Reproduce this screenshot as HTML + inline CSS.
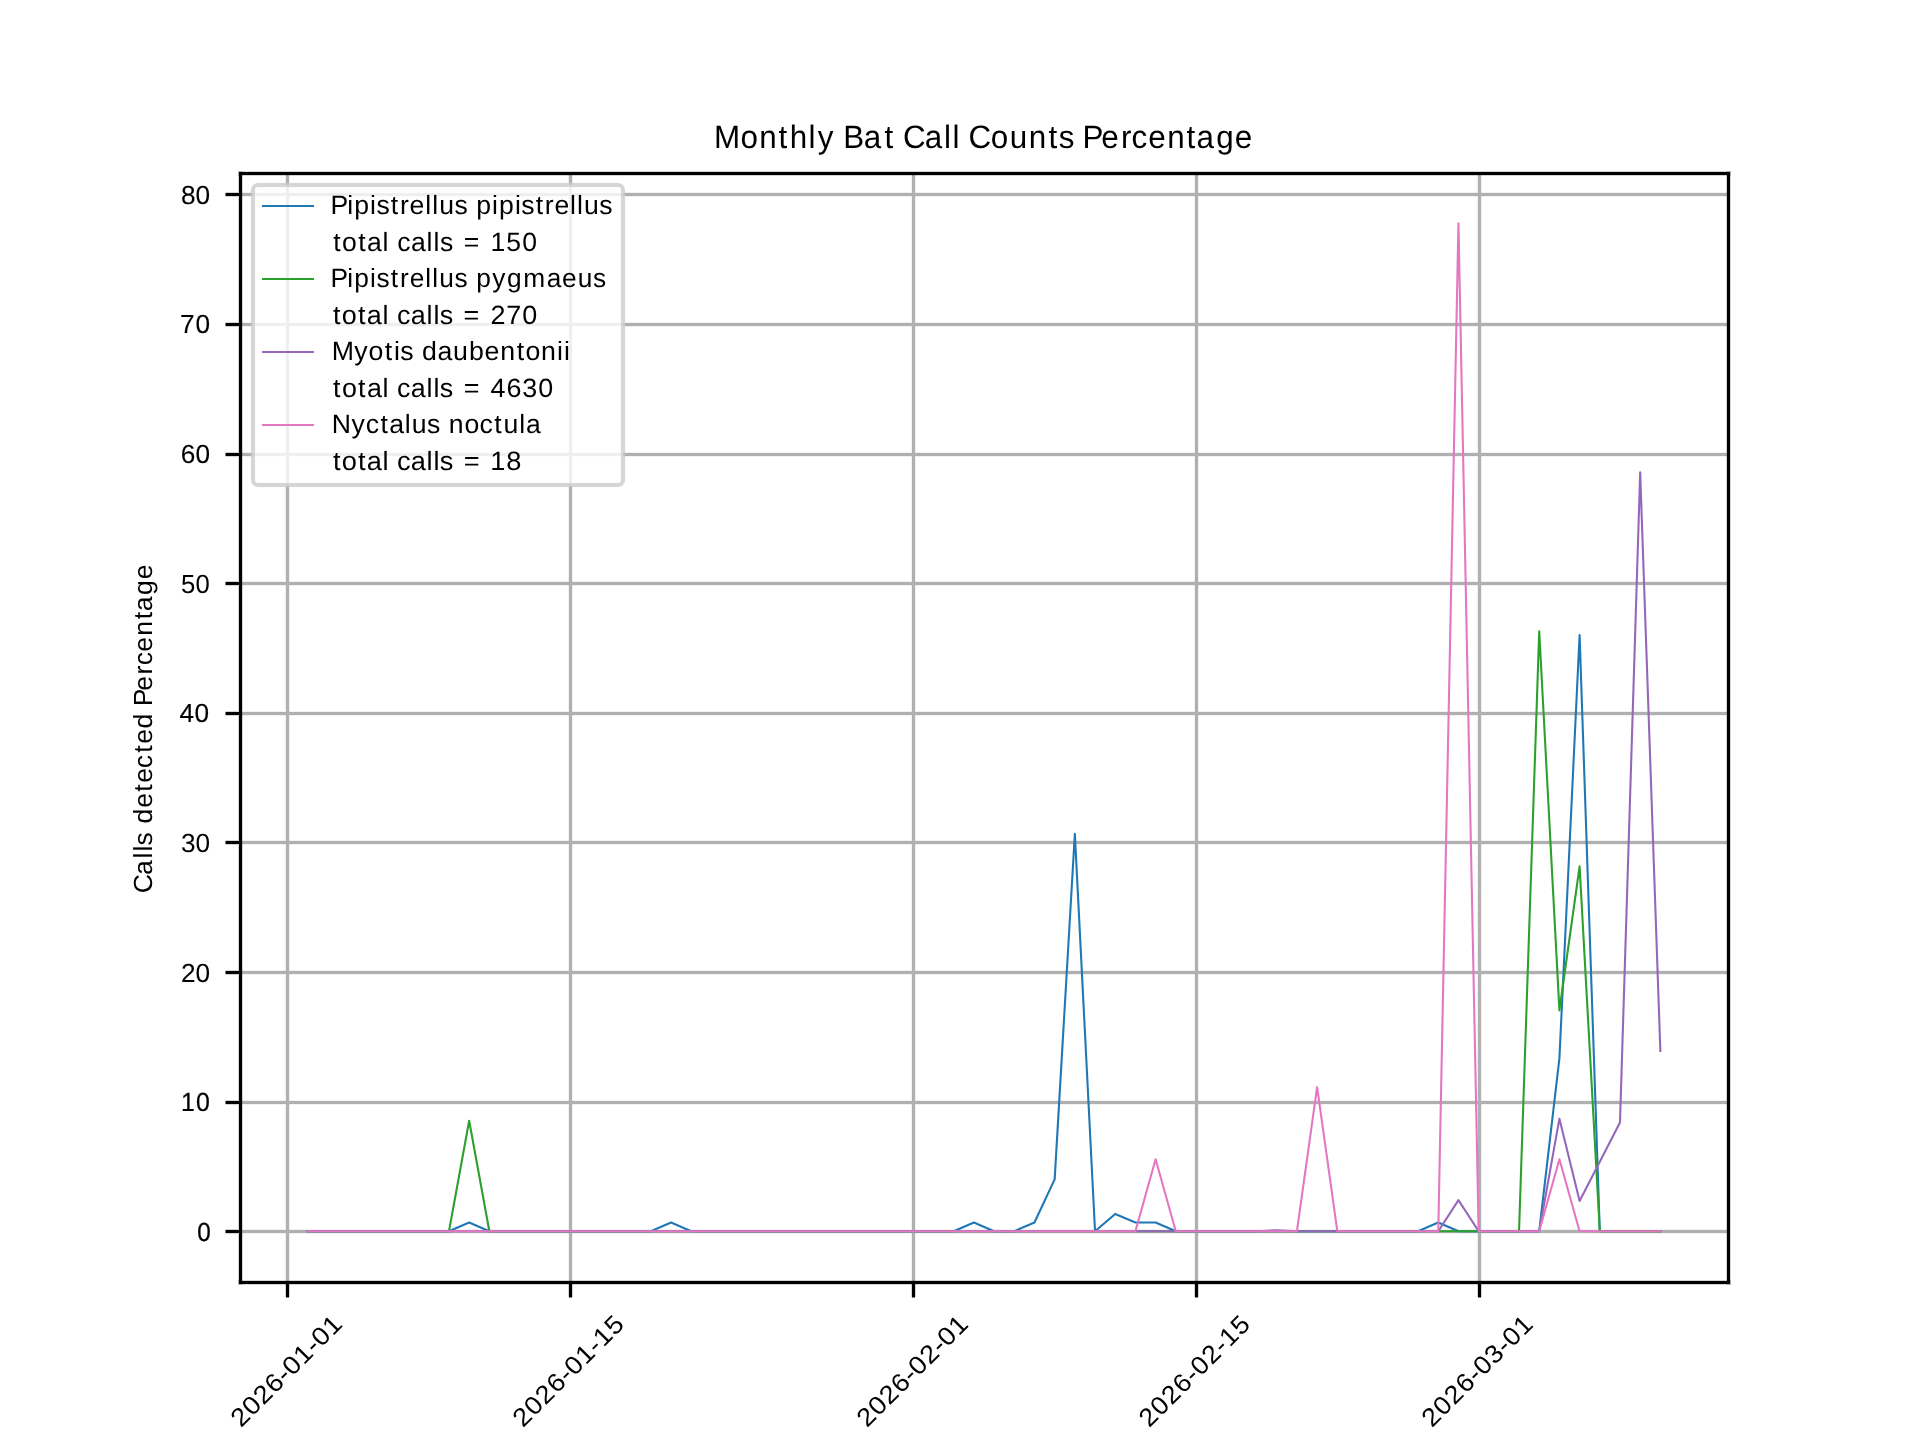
<!DOCTYPE html>
<html><head><meta charset="utf-8"><title>Monthly Bat Call Counts Percentage</title>
<style>
html,body{margin:0;padding:0;background:#fff;width:1920px;height:1440px;overflow:hidden}
svg{display:block;will-change:transform}
text{font-family:"Liberation Sans",sans-serif;fill:#000;text-rendering:geometricPrecision}
.c{shape-rendering:crispEdges}
</style></head><body>
<svg width="1920" height="1440" viewBox="0 0 1920 1440">
<rect x="0" y="0" width="1920" height="1440" fill="#ffffff"/>
<g class="c">
<rect x="286" y="172" width="3" height="1112" fill="#b0b0b0"/><rect x="285" y="172" width="1" height="1112" fill="#b0b0b0" fill-opacity="0.1667"/><rect x="289" y="172" width="1" height="1112" fill="#b0b0b0" fill-opacity="0.1667"/>
<rect x="569" y="172" width="3" height="1112" fill="#b0b0b0"/><rect x="568" y="172" width="1" height="1112" fill="#b0b0b0" fill-opacity="0.1667"/><rect x="572" y="172" width="1" height="1112" fill="#b0b0b0" fill-opacity="0.1667"/>
<rect x="912" y="172" width="3" height="1112" fill="#b0b0b0"/><rect x="911" y="172" width="1" height="1112" fill="#b0b0b0" fill-opacity="0.1667"/><rect x="915" y="172" width="1" height="1112" fill="#b0b0b0" fill-opacity="0.1667"/>
<rect x="1195" y="172" width="3" height="1112" fill="#b0b0b0"/><rect x="1194" y="172" width="1" height="1112" fill="#b0b0b0" fill-opacity="0.1667"/><rect x="1198" y="172" width="1" height="1112" fill="#b0b0b0" fill-opacity="0.1667"/>
<rect x="1478" y="172" width="3" height="1112" fill="#b0b0b0"/><rect x="1477" y="172" width="1" height="1112" fill="#b0b0b0" fill-opacity="0.1667"/><rect x="1481" y="172" width="1" height="1112" fill="#b0b0b0" fill-opacity="0.1667"/>
<rect x="239" y="1230" width="1491" height="3" fill="#b0b0b0"/><rect x="239" y="1229" width="1491" height="1" fill="#b0b0b0" fill-opacity="0.1667"/><rect x="239" y="1233" width="1491" height="1" fill="#b0b0b0" fill-opacity="0.1667"/>
<rect x="239" y="1101" width="1491" height="3" fill="#b0b0b0"/><rect x="239" y="1100" width="1491" height="1" fill="#b0b0b0" fill-opacity="0.1667"/><rect x="239" y="1104" width="1491" height="1" fill="#b0b0b0" fill-opacity="0.1667"/>
<rect x="239" y="971" width="1491" height="3" fill="#b0b0b0"/><rect x="239" y="970" width="1491" height="1" fill="#b0b0b0" fill-opacity="0.1667"/><rect x="239" y="974" width="1491" height="1" fill="#b0b0b0" fill-opacity="0.1667"/>
<rect x="239" y="841" width="1491" height="3" fill="#b0b0b0"/><rect x="239" y="840" width="1491" height="1" fill="#b0b0b0" fill-opacity="0.1667"/><rect x="239" y="844" width="1491" height="1" fill="#b0b0b0" fill-opacity="0.1667"/>
<rect x="239" y="712" width="1491" height="3" fill="#b0b0b0"/><rect x="239" y="711" width="1491" height="1" fill="#b0b0b0" fill-opacity="0.1667"/><rect x="239" y="715" width="1491" height="1" fill="#b0b0b0" fill-opacity="0.1667"/>
<rect x="239" y="582" width="1491" height="3" fill="#b0b0b0"/><rect x="239" y="581" width="1491" height="1" fill="#b0b0b0" fill-opacity="0.1667"/><rect x="239" y="585" width="1491" height="1" fill="#b0b0b0" fill-opacity="0.1667"/>
<rect x="239" y="453" width="1491" height="3" fill="#b0b0b0"/><rect x="239" y="452" width="1491" height="1" fill="#b0b0b0" fill-opacity="0.1667"/><rect x="239" y="456" width="1491" height="1" fill="#b0b0b0" fill-opacity="0.1667"/>
<rect x="239" y="323" width="1491" height="3" fill="#b0b0b0"/><rect x="239" y="322" width="1491" height="1" fill="#b0b0b0" fill-opacity="0.1667"/><rect x="239" y="326" width="1491" height="1" fill="#b0b0b0" fill-opacity="0.1667"/>
<rect x="239" y="193" width="1491" height="3" fill="#b0b0b0"/><rect x="239" y="192" width="1491" height="1" fill="#b0b0b0" fill-opacity="0.1667"/><rect x="239" y="196" width="1491" height="1" fill="#b0b0b0" fill-opacity="0.1667"/>
</g>
<g fill="none" stroke-width="2.0833" stroke-linejoin="round" stroke-linecap="square">
<polyline stroke="#1f77b4" points="307.64,1231.2 327.83,1231.2 348.02,1231.2 368.21,1231.2 388.4,1231.2 408.59,1231.2 428.78,1231.2 448.97,1231.2 469.16,1222.56 489.35,1231.2 509.54,1231.2 529.73,1231.2 549.92,1231.2 570.11,1231.2 590.3,1231.2 610.49,1231.2 630.68,1231.2 650.87,1231.2 671.06,1222.56 691.25,1231.2 711.44,1231.2 731.63,1231.2 751.82,1231.2 772.01,1231.2 792.2,1231.2 812.39,1231.2 832.58,1231.2 852.77,1231.2 872.96,1231.2 893.15,1231.2 913.34,1231.2 933.53,1231.2 953.72,1231.2 973.91,1222.56 994.09,1231.2 1014.28,1231.2 1034.47,1222.56 1054.66,1179.36 1074.85,833.76 1095.04,1231.2 1115.23,1213.92 1135.42,1222.56 1155.61,1222.56 1175.8,1231.2 1195.99,1231.2 1216.18,1231.2 1236.37,1231.2 1256.56,1231.2 1276.75,1231.2 1296.94,1231.2 1317.13,1231.2 1337.32,1231.2 1357.51,1231.2 1377.7,1231.2 1397.89,1231.2 1418.08,1231.2 1438.27,1222.56 1458.46,1231.2 1478.65,1231.2 1498.84,1231.2 1519.03,1231.2 1539.22,1231.2 1559.41,1058.4 1579.6,635.04 1599.79,1231.2 1619.98,1231.2 1640.17,1231.2 1660.36,1231.2"/>
<polyline stroke="#2ca02c" points="307.64,1231.2 327.83,1231.2 348.02,1231.2 368.21,1231.2 388.4,1231.2 408.59,1231.2 428.78,1231.2 448.97,1231.2 469.16,1120.8 489.35,1231.2 509.54,1231.2 529.73,1231.2 549.92,1231.2 570.11,1231.2 590.3,1231.2 610.49,1231.2 630.68,1231.2 650.87,1231.2 671.06,1231.2 691.25,1231.2 711.44,1231.2 731.63,1231.2 751.82,1231.2 772.01,1231.2 792.2,1231.2 812.39,1231.2 832.58,1231.2 852.77,1231.2 872.96,1231.2 893.15,1231.2 913.34,1231.2 933.53,1231.2 953.72,1231.2 973.91,1231.2 994.09,1231.2 1014.28,1231.2 1034.47,1231.2 1054.66,1231.2 1074.85,1231.2 1095.04,1231.2 1115.23,1231.2 1135.42,1231.2 1155.61,1231.2 1175.8,1231.2 1195.99,1231.2 1216.18,1231.2 1236.37,1231.2 1256.56,1231.2 1276.75,1231.2 1296.94,1231.2 1317.13,1231.2 1337.32,1231.2 1357.51,1231.2 1377.7,1231.2 1397.89,1231.2 1418.08,1231.2 1438.27,1231.2 1458.46,1231.2 1478.65,1231.2 1498.84,1231.2 1519.03,1231.2 1539.22,631.2 1559.41,1010.4 1579.6,866.4 1599.79,1231.2 1619.98,1231.2 1640.17,1231.2 1660.36,1231.2"/>
<polyline stroke="#9467bd" points="307.64,1231.2 327.83,1231.2 348.02,1231.2 368.21,1231.2 388.4,1231.2 408.59,1231.2 428.78,1231.2 448.97,1231.2 469.16,1231.2 489.35,1231.2 509.54,1231.2 529.73,1231.2 549.92,1231.2 570.11,1231.2 590.3,1231.2 610.49,1231.2 630.68,1231.2 650.87,1231.2 671.06,1231.2 691.25,1231.2 711.44,1231.2 731.63,1231.2 751.82,1231.2 772.01,1231.2 792.2,1231.2 812.39,1231.2 832.58,1231.2 852.77,1231.2 872.96,1231.2 893.15,1231.2 913.34,1231.2 933.53,1231.2 953.72,1231.2 973.91,1231.2 994.09,1231.2 1014.28,1231.2 1034.47,1231.2 1054.66,1231.2 1074.85,1231.2 1095.04,1231.2 1115.23,1231.2 1135.42,1231.2 1155.61,1231.2 1175.8,1231.2 1195.99,1231.2 1216.18,1231.2 1236.37,1231.2 1256.56,1231.2 1276.75,1230.36 1296.94,1231.2 1317.13,1231.2 1337.32,1231.2 1357.51,1231.2 1377.7,1231.2 1397.89,1231.2 1418.08,1231.2 1438.27,1231.2 1458.46,1200.13 1478.65,1231.2 1498.84,1231.2 1519.03,1231.2 1539.22,1231.2 1559.41,1118.67 1579.6,1200.97 1599.79,1161.78 1619.98,1122.59 1640.17,472.35 1660.36,1050.94"/>
<polyline stroke="#e377c2" points="307.64,1231.2 327.83,1231.2 348.02,1231.2 368.21,1231.2 388.4,1231.2 408.59,1231.2 428.78,1231.2 448.97,1231.2 469.16,1231.2 489.35,1231.2 509.54,1231.2 529.73,1231.2 549.92,1231.2 570.11,1231.2 590.3,1231.2 610.49,1231.2 630.68,1231.2 650.87,1231.2 671.06,1231.2 691.25,1231.2 711.44,1231.2 731.63,1231.2 751.82,1231.2 772.01,1231.2 792.2,1231.2 812.39,1231.2 832.58,1231.2 852.77,1231.2 872.96,1231.2 893.15,1231.2 913.34,1231.2 933.53,1231.2 953.72,1231.2 973.91,1231.2 994.09,1231.2 1014.28,1231.2 1034.47,1231.2 1054.66,1231.2 1074.85,1231.2 1095.04,1231.2 1115.23,1231.2 1135.42,1231.2 1155.61,1159.2 1175.8,1231.2 1195.99,1231.2 1216.18,1231.2 1236.37,1231.2 1256.56,1231.2 1276.75,1231.2 1296.94,1231.2 1317.13,1087.2 1337.32,1231.2 1357.51,1231.2 1377.7,1231.2 1397.89,1231.2 1418.08,1231.2 1438.27,1231.2 1458.46,223.2 1478.65,1231.2 1498.84,1231.2 1519.03,1231.2 1539.22,1231.2 1559.41,1159.2 1579.6,1231.2 1599.79,1231.2 1619.98,1231.2 1640.17,1231.2 1660.36,1231.2"/>
</g>
<g class="c">
<rect x="238" y="171" width="5" height="1114" fill="#000" fill-opacity="0.1667"/>
<rect x="1726" y="171" width="5" height="1114" fill="#000" fill-opacity="0.1667"/>
<rect x="238" y="171" width="1493" height="5" fill="#000" fill-opacity="0.1667"/>
<rect x="238" y="1280" width="1493" height="5" fill="#000" fill-opacity="0.1667"/>
<rect x="239" y="172" width="3" height="1112" fill="#000"/>
<rect x="1727" y="172" width="3" height="1112" fill="#000"/>
<rect x="239" y="172" width="1491" height="3" fill="#000"/>
<rect x="239" y="1281" width="1491" height="3" fill="#000"/>
<rect x="286" y="1284" width="3" height="13" fill="#000"/><rect x="286" y="1297" width="3" height="1" fill="#000" fill-opacity="0.5"/>
<rect x="285" y="1284" width="1" height="13" fill="#000" fill-opacity="0.1667"/><rect x="289" y="1284" width="1" height="13" fill="#000" fill-opacity="0.1667"/>
<rect x="569" y="1284" width="3" height="13" fill="#000"/><rect x="569" y="1297" width="3" height="1" fill="#000" fill-opacity="0.5"/>
<rect x="568" y="1284" width="1" height="13" fill="#000" fill-opacity="0.1667"/><rect x="572" y="1284" width="1" height="13" fill="#000" fill-opacity="0.1667"/>
<rect x="912" y="1284" width="3" height="13" fill="#000"/><rect x="912" y="1297" width="3" height="1" fill="#000" fill-opacity="0.5"/>
<rect x="911" y="1284" width="1" height="13" fill="#000" fill-opacity="0.1667"/><rect x="915" y="1284" width="1" height="13" fill="#000" fill-opacity="0.1667"/>
<rect x="1195" y="1284" width="3" height="13" fill="#000"/><rect x="1195" y="1297" width="3" height="1" fill="#000" fill-opacity="0.5"/>
<rect x="1194" y="1284" width="1" height="13" fill="#000" fill-opacity="0.1667"/><rect x="1198" y="1284" width="1" height="13" fill="#000" fill-opacity="0.1667"/>
<rect x="1478" y="1284" width="3" height="13" fill="#000"/><rect x="1478" y="1297" width="3" height="1" fill="#000" fill-opacity="0.5"/>
<rect x="1477" y="1284" width="1" height="13" fill="#000" fill-opacity="0.1667"/><rect x="1481" y="1284" width="1" height="13" fill="#000" fill-opacity="0.1667"/>
<rect x="226" y="1230" width="13" height="3" fill="#000"/><rect x="225" y="1230" width="1" height="3" fill="#000" fill-opacity="0.5"/>
<rect x="226" y="1229" width="12" height="1" fill="#000" fill-opacity="0.1667"/><rect x="226" y="1233" width="12" height="1" fill="#000" fill-opacity="0.1667"/>
<rect x="225" y="1229" width="1" height="1" fill="#000" fill-opacity="0.085"/><rect x="225" y="1233" width="1" height="1" fill="#000" fill-opacity="0.085"/>
<rect x="226" y="1101" width="13" height="3" fill="#000"/><rect x="225" y="1101" width="1" height="3" fill="#000" fill-opacity="0.5"/>
<rect x="226" y="1100" width="12" height="1" fill="#000" fill-opacity="0.1667"/><rect x="226" y="1104" width="12" height="1" fill="#000" fill-opacity="0.1667"/>
<rect x="225" y="1100" width="1" height="1" fill="#000" fill-opacity="0.085"/><rect x="225" y="1104" width="1" height="1" fill="#000" fill-opacity="0.085"/>
<rect x="226" y="971" width="13" height="3" fill="#000"/><rect x="225" y="971" width="1" height="3" fill="#000" fill-opacity="0.5"/>
<rect x="226" y="970" width="12" height="1" fill="#000" fill-opacity="0.1667"/><rect x="226" y="974" width="12" height="1" fill="#000" fill-opacity="0.1667"/>
<rect x="225" y="970" width="1" height="1" fill="#000" fill-opacity="0.085"/><rect x="225" y="974" width="1" height="1" fill="#000" fill-opacity="0.085"/>
<rect x="226" y="841" width="13" height="3" fill="#000"/><rect x="225" y="841" width="1" height="3" fill="#000" fill-opacity="0.5"/>
<rect x="226" y="840" width="12" height="1" fill="#000" fill-opacity="0.1667"/><rect x="226" y="844" width="12" height="1" fill="#000" fill-opacity="0.1667"/>
<rect x="225" y="840" width="1" height="1" fill="#000" fill-opacity="0.085"/><rect x="225" y="844" width="1" height="1" fill="#000" fill-opacity="0.085"/>
<rect x="226" y="712" width="13" height="3" fill="#000"/><rect x="225" y="712" width="1" height="3" fill="#000" fill-opacity="0.5"/>
<rect x="226" y="711" width="12" height="1" fill="#000" fill-opacity="0.1667"/><rect x="226" y="715" width="12" height="1" fill="#000" fill-opacity="0.1667"/>
<rect x="225" y="711" width="1" height="1" fill="#000" fill-opacity="0.085"/><rect x="225" y="715" width="1" height="1" fill="#000" fill-opacity="0.085"/>
<rect x="226" y="582" width="13" height="3" fill="#000"/><rect x="225" y="582" width="1" height="3" fill="#000" fill-opacity="0.5"/>
<rect x="226" y="581" width="12" height="1" fill="#000" fill-opacity="0.1667"/><rect x="226" y="585" width="12" height="1" fill="#000" fill-opacity="0.1667"/>
<rect x="225" y="581" width="1" height="1" fill="#000" fill-opacity="0.085"/><rect x="225" y="585" width="1" height="1" fill="#000" fill-opacity="0.085"/>
<rect x="226" y="453" width="13" height="3" fill="#000"/><rect x="225" y="453" width="1" height="3" fill="#000" fill-opacity="0.5"/>
<rect x="226" y="452" width="12" height="1" fill="#000" fill-opacity="0.1667"/><rect x="226" y="456" width="12" height="1" fill="#000" fill-opacity="0.1667"/>
<rect x="225" y="452" width="1" height="1" fill="#000" fill-opacity="0.085"/><rect x="225" y="456" width="1" height="1" fill="#000" fill-opacity="0.085"/>
<rect x="226" y="323" width="13" height="3" fill="#000"/><rect x="225" y="323" width="1" height="3" fill="#000" fill-opacity="0.5"/>
<rect x="226" y="322" width="12" height="1" fill="#000" fill-opacity="0.1667"/><rect x="226" y="326" width="12" height="1" fill="#000" fill-opacity="0.1667"/>
<rect x="225" y="322" width="1" height="1" fill="#000" fill-opacity="0.085"/><rect x="225" y="326" width="1" height="1" fill="#000" fill-opacity="0.085"/>
<rect x="226" y="193" width="13" height="3" fill="#000"/><rect x="225" y="193" width="1" height="3" fill="#000" fill-opacity="0.5"/>
<rect x="226" y="192" width="12" height="1" fill="#000" fill-opacity="0.1667"/><rect x="226" y="196" width="12" height="1" fill="#000" fill-opacity="0.1667"/>
<rect x="225" y="192" width="1" height="1" fill="#000" fill-opacity="0.085"/><rect x="225" y="196" width="1" height="1" fill="#000" fill-opacity="0.085"/>
</g>
<rect x="253" y="185" width="370" height="300" rx="5" ry="5" fill="#ffffff" fill-opacity="0.8" stroke="#cccccc" stroke-opacity="0.8" stroke-width="4.1667"/>
<g class="c" fill="#cccccc" fill-opacity="0.0667">
<rect x="258" y="182" width="360" height="1"/>
<rect x="258" y="187" width="360" height="1"/>
<rect x="258" y="482" width="360" height="1"/>
<rect x="258" y="487" width="360" height="1"/>
</g>
<g class="c">
<rect x="262" y="205" width="52" height="2" fill="#1f77b4"/>
<rect x="262" y="278" width="52" height="2" fill="#2ca02c"/>
<rect x="262" y="351" width="52" height="2" fill="#9467bd"/>
<rect x="262" y="424" width="52" height="2" fill="#e377c2"/>
</g>
<text transform="translate(241.498 1427.762) rotate(-45) scale(1.076 1)" x="-0.69 14.12 28.92 43.79 58.32 67.07 81.82 96.29 105.05 119.82" y="0" font-size="25.6">2026-01-01</text>
<text transform="translate(523.863 1427.335) rotate(-45) scale(1.066 1)" x="-1.16 13.79 28.74 43.75 58.38 67.25 82.14 96.72 105.59 120.49" y="0" font-size="25.6">2026-01-15</text>
<text transform="translate(867.431 1427.939) rotate(-45) scale(1.074 1)" x="-0.47 14.37 29.2 44.09 58.64 67.42 82.25 96.8 105.58 120.37" y="0" font-size="25.6">2026-02-01</text>
<text transform="translate(1149.884 1427.601) rotate(-45) scale(1.048 1)" x="-0.98 14.22 29.42 44.68 59.52 68.59 83.79 98.62 107.69 122.84" y="0" font-size="25.6">2026-02-15</text>
<text transform="translate(1432.529 1427.586) rotate(-45) scale(1.057 1)" x="-0.81 14.27 29.35 44.49 59.24 68.21 83.23 97.91 106.89 121.92" y="0" font-size="25.6">2026-03-01</text>
<text transform="translate(194.958 1240.575) scale(0.926 1)" x="2.44" y="0" font-size="26.2" stroke="#000" stroke-width="0.274">0</text>
<text transform="translate(179.083 1110.6) scale(0.95 1)" x="2.11 17.74" y="0" font-size="26.2" stroke="#000" stroke-width="0.234">10</text>
<text transform="translate(178.958 981.5) scale(1 1)" x="1.96 16.46" y="0" font-size="26.2" stroke="#000" stroke-width="0.05">20</text>
<text transform="translate(179.083 851.525) scale(1 1)" x="1.92 16.34" y="0" font-size="26.2">30</text>
<text transform="translate(178.958 721.55) scale(1 1)" x="0.55 15.46" y="0" font-size="26.2" stroke="#000" stroke-width="0.155">40</text>
<text transform="translate(179.208 592.575) scale(0.98 1)" x="1.8 16.57" y="0" font-size="26.2">50</text>
<text transform="translate(178.958 462.6) scale(1 1)" x="1.87 16.46" y="0" font-size="26.2" stroke="#000" stroke-width="0.119">60</text>
<text transform="translate(179.083 332.5) scale(1 1)" x="0.83 16.34" y="0" font-size="26.2" stroke="#000" stroke-width="0.142">70</text>
<text transform="translate(178.958 203.525) scale(1 1)" x="1.96 16.46" y="0" font-size="26.2" stroke="#000" stroke-width="0.105">80</text>
<text transform="translate(151.5 891.012) rotate(-90) scale(1.016 1)" x="-2.24 15.79 32.04 38.93 44.76 58.64 66.36 81.85 97.68 106.47 120.75 136.08 144.87 159.91 175.32 181.9 197.05 213.08 222.17 235.45 251.16 267.53 275.24 291.35 306.84" y="0" font-size="26.2">Calls detected Percentage</text>
<text transform="translate(714.5 147.55) scale(0.969 1)" x="-0.47 26.72 46.3 66.18 77.72 97.12 106.55 124.86 132.78 153.97 175.55 188.83 194.58 216.91 236.93 245.7 257.18 262.16 285.18 304.8 324.36 344.76 355.35 372.74 379.89 399.22 419.54 430.27 447.71 467.26 487.14 497.55 517.69 536.96" y="0" font-size="32.4">Monthly Bat Call Counts Percentage</text>
<text transform="translate(332.5 213.55) scale(1.008 1)" x="-2.04 14.56 21.5 37.25 43.57 57.85 66.86 76.44 91.95 98.9 105.84 120.97 134.38 142.55 158.31 165.25 181.01 187.32 201.61 210.61 220.2 235.71 242.65 249.59 264.67" y="0" font-size="26.4">Pipistrellus pipistrellus</text>
<text transform="translate(332.5 250.55) scale(1.007 1)" x="0.68 9.42 25.5 34.24 49.7 56.41 64.28 77.94 93.39 100.34 106.67 120.09 130.39 148.77 156.95 172.65 188.37" y="0" font-size="26.4">total calls = 150</text>
<text transform="translate(332.5 286.55) scale(0.996 1)" x="-1.96 14.76 21.84 37.73 44.17 58.58 67.71 77.44 93.08 100.1 107.18 122.48 136.02 144.33 160.44 175.08 191.63 215.17 230.55 246.24 261.48" y="0" font-size="26.4">Pipistrellus pygmaeus</text>
<text transform="translate(332.5 323.55) scale(1.021 1)" x="0.5 9.07 24.98 33.55 48.86 55.47 63.19 76.65 91.96 98.82 105 118.28 128.38 146.57 154.65 170.26 185.82" y="0" font-size="26.4">total calls = 270</text>
<text transform="translate(332.5 359.55) scale(1.013 1)" x="-0.82 21.53 35.59 51.6 60.6 66.86 80.22 88.32 103.68 119.04 134.71 150.13 165.55 181.87 190.53 205.89 221.58 228.46" y="0" font-size="26.4">Myotis daubentonii</text>
<text transform="translate(332.5 396.55) scale(1.019 1)" x="0.62 9.21 25.15 33.74 49.06 55.68 63.42 76.9 92.22 99.09 105.29 118.59 128.71 146.91 155.01 170.7 186.34 201.93" y="0" font-size="26.4">total calls = 4630</text>
<text transform="translate(332.5 432.55) scale(1.009 1)" x="-0.73 18.8 32.93 47.51 56.23 71.67 78.6 93.71 107.12 115.28 130.71 145.82 160.41 169.43 185.18 191.84" y="0" font-size="26.4">Nyctalus noctula</text>
<text transform="translate(332.5 469.55) scale(1.031 1)" x="0.58 9.03 24.83 33.28 48.48 55.02 62.64 75.96 91.16 97.95 104.04 117.22 127.19 145.23 153.14 168.55" y="0" font-size="26.4">total calls = 18</text>
</svg>
</body></html>
